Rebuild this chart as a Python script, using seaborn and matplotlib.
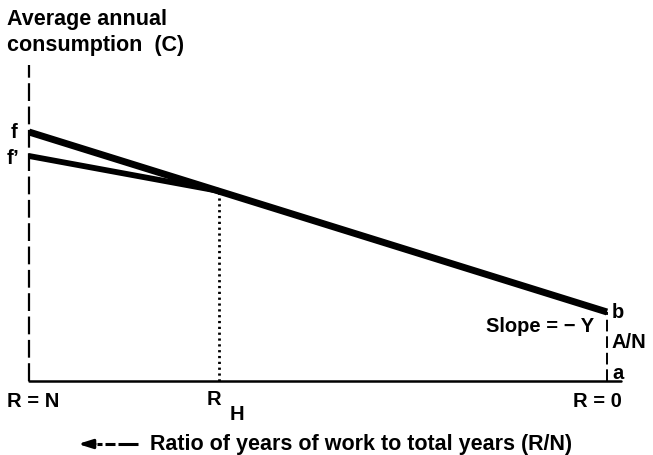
import matplotlib
matplotlib.use("Agg")
import matplotlib.pyplot as plt
from matplotlib.lines import Line2D
import seaborn as sns
import pandas as pd

# Data (x: 0 = R=N on left, 100 = R=0 on right; y: consumption, arbitrary units)
x_ends = [0, 100]
line_main = [249, 69]          # f -> b
x_prime = [0, 32.9]
line_prime = [225, 190]        # f' -> meets main line at R_H
rh_x = 32.9
rh_y = 190
axis_top = 316
an_x = 100
an_y = 69

sns.set_theme(style="white")
plt.rcParams['font.family'] = ['Liberation Sans', 'DejaVu Sans']
plt.rcParams['font.weight'] = 'bold'

W, H = 653, 456
fig = plt.figure(figsize=(6.53, 4.56), dpi=100)
ax = fig.add_axes([29/W, (H-382)/H, 578/W, 316/H])
ax.set_xlim(0, 100)
ax.set_ylim(0, 316)
ax.axis('off')

df_main = pd.DataFrame({'x': x_ends, 'y': line_main})
df_prime = pd.DataFrame({'x': x_prime, 'y': line_prime})
sns.lineplot(data=df_main, x='x', y='y', ax=ax, color='black', linewidth=5.0,
             solid_capstyle='butt', clip_on=False)
sns.lineplot(data=df_prime, x='x', y='y', ax=ax, color='black', linewidth=4.2,
             solid_capstyle='butt', clip_on=False)

# left dashed axis
ax.plot([0, 0], [0, axis_top], color='black', linewidth=1.6,
        linestyle=(0, (8, 2.5)), clip_on=False)
# baseline
ax.plot([0, 102.5], [0, 0], color='black', linewidth=1.8, clip_on=False)
# right dashed A/N segment
ax.plot([an_x, an_x], [0, an_y], color='black', linewidth=1.4,
        linestyle=(0, (6, 2.5)), clip_on=False)
# dotted vertical at R_H
ax.plot([rh_x, rh_x], [0, rh_y], color='black', linewidth=2.0,
        linestyle=(0, (0.8, 1.3)), clip_on=False)

fs = 14.5

def t(px, py, s, ha='left', va='center', size=fs):
    fig.text(px/W, 1 - py/H, s, ha=ha, va=va, fontsize=size,
             fontweight='bold', color='black')

t(7, 20, "Average annual", size=15.5)
t(7, 45, "consumption  (C)", size=15.5)
t(11, 133, "f")
t(7, 158, "f\u2019")
t(612, 313, "b")
t(594, 326, "Slope = \u2212 Y", ha='right')
t(612, 343, "A/N")
t(612, 374, "a")
t(7, 402, "R = N")
t(207, 400, "R")
t(230, 415, "H")
t(622, 402, "R = 0", ha='right')
t(150, 445, "Ratio of years of work to total years (R/N)", size=15.5)

# arrow "<--- " to the left of the axis title
ay = 1 - 445/H
for x0, x1 in [(97, 102), (105, 115), (118, 138)]:
    fig.add_artist(Line2D([x0/W, x1/W], [ay, ay], color='black', linewidth=2.2,
                          solid_capstyle='butt'))
ax.annotate("", xy=(78/W, ay), xycoords='figure fraction',
            xytext=(95/W, ay), textcoords='figure fraction',
            arrowprops=dict(arrowstyle='-|>,head_length=0.7,head_width=0.22',
                            color='black', linewidth=2.2, shrinkA=0, shrinkB=0))

fig.savefig("out.png", dpi=100)
